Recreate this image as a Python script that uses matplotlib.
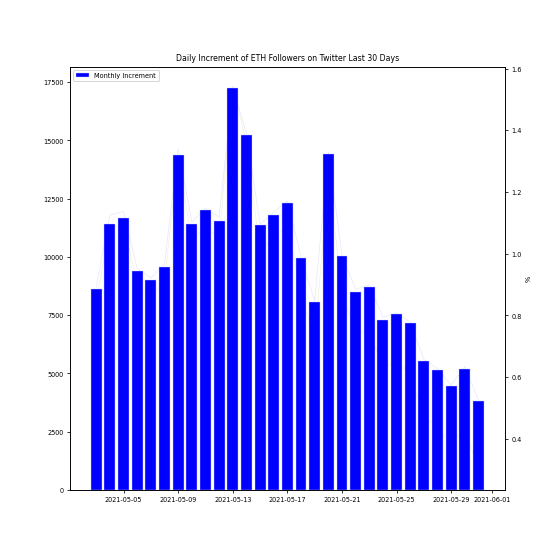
import matplotlib.pyplot as plt
import matplotlib.dates as mdates
import pandas as pd

dates = pd.date_range("2021-05-03", "2021-05-31", freq="D")

increment = [8600, 11400, 11650, 9400, 9000, 9550, 14350, 11400, 12000, 11550,
             17250, 15250, 11350, 11800, 12300, 9950, 8050, 14400, 10050, 8500,
             8700, 7300, 7550, 7150, 5550, 5150, 4450, 5200, 3800]

trend = [8700, 11800, 11950, 9500, 9100, 9700, 14650, 11500, 12100, 11700,
         17300, 15300, 11400, 11900, 12400, 10000, 8100, 14500, 10100, 8600,
         8800, 7400, 7600, 7200, 5600, 5200, 4500, 5300, 3850]

pct = [0.85, 1.08, 1.10, 0.90, 0.86, 0.91, 1.32, 1.04, 1.09, 1.05,
       1.544, 1.36, 1.01, 1.05, 1.09, 0.88, 0.71, 1.26, 0.88, 0.74,
       0.75, 0.63, 0.65, 0.61, 0.47, 0.44, 0.38, 0.44, 0.297]

plt.rcParams['font.size'] = 6.7

fig, ax = plt.subplots(figsize=(8.01, 8.01), dpi=70)
fig.subplots_adjust(left=0.125, right=0.9, top=0.88, bottom=0.125)

ax2 = ax.twinx()
ax2.plot(dates, pct, color='#f5f0d8', linewidth=0.7)
ax2.set_ylabel('%')

# keep the bars in front of the percentage line
ax.set_zorder(ax2.get_zorder() + 1)
ax.patch.set_visible(False)

ax.bar(dates, increment, width=0.8, color='blue', edgecolor='#c8c8ff',
       linewidth=0.4, label='Monthly Increment')
ax.plot(dates, trend, color='lavender', linewidth=0.7, zorder=0)
ax.set_xlim(pd.Timestamp("2021-05-01 02:00"), pd.Timestamp("2021-06-01 22:00"))
ax.xaxis.set_major_locator(mdates.AutoDateLocator())
ax.xaxis.set_major_formatter(mdates.DateFormatter('%Y-%m-%d'))
ax.legend(loc='upper left', fontsize=6.7)
ax.set_title('Daily Increment of ETH Followers on Twitter Last 30 Days', fontsize=8)

fig.savefig('out.png', dpi=70)
